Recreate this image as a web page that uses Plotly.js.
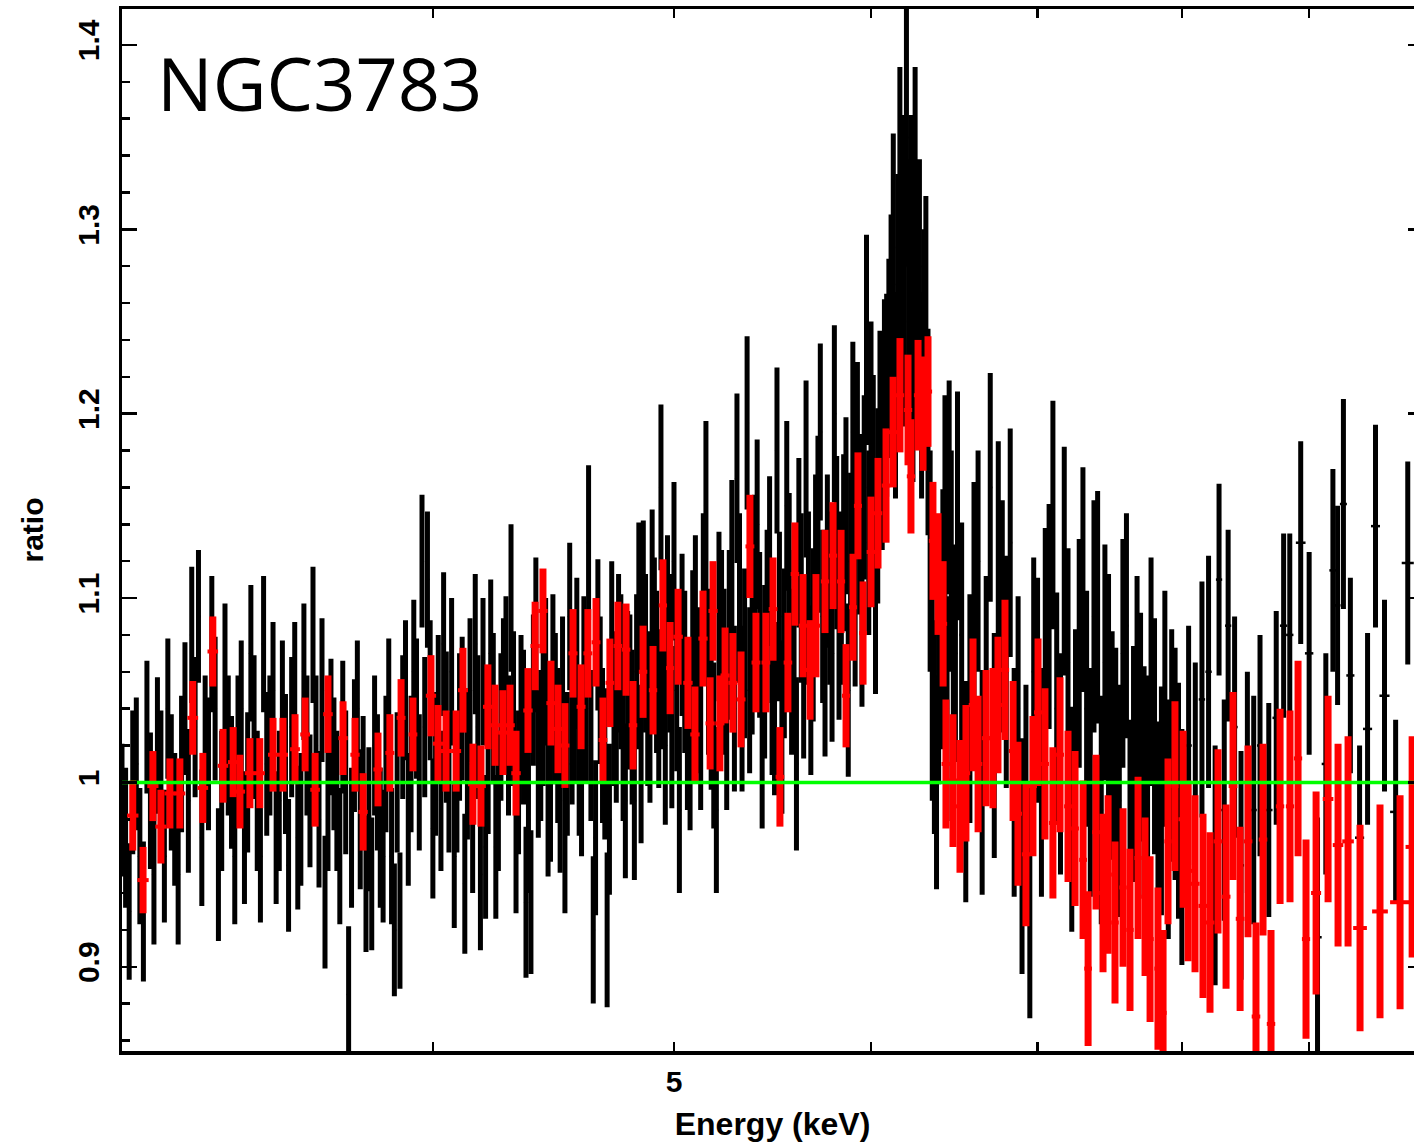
<!DOCTYPE html>
<html>
<head>
<meta charset="utf-8">
<script src="https://cdn.plot.ly/plotly-3.0.1.min.js"></script>
<style>
html,body{margin:0;padding:0;overflow:hidden;background:#fff;}
#chart{width:1440px;height:1145px;}
</style>
</head>
<body>
<div id="chart"></div>
<script>
// ---------- black spectrum (energy in keV, data/model ratio, 1-sigma error, bin half-width) ----------
const blackEnergy = [
3.00,3.01,3.02,3.03,3.04,3.05,3.06,3.07,3.08,3.09,3.10,3.11,3.12,3.13,3.14,3.15,3.16,3.17,3.18,3.19,
3.20,3.21,3.22,3.23,3.24,3.25,3.26,3.27,3.28,3.29,3.30,3.31,3.32,3.33,3.34,3.35,3.36,3.37,3.38,3.39,
3.40,3.41,3.42,3.43,3.44,3.45,3.46,3.47,3.48,3.49,3.50,3.51,3.52,3.53,3.54,3.55,3.56,3.57,3.58,3.59,
3.60,3.61,3.62,3.63,3.64,3.65,3.66,3.67,3.68,3.69,3.70,3.71,3.72,3.73,3.74,3.75,3.76,3.77,3.78,3.79,
3.80,3.81,3.82,3.83,3.84,3.85,3.86,3.87,3.88,3.89,3.90,3.91,3.92,3.93,3.94,3.95,3.96,3.97,3.98,3.99,
4.00,4.01,4.02,4.03,4.04,4.05,4.06,4.07,4.08,4.09,4.10,4.11,4.12,4.13,4.14,4.15,4.16,4.17,4.18,4.19,
4.20,4.21,4.22,4.23,4.24,4.25,4.26,4.27,4.28,4.29,4.30,4.31,4.32,4.33,4.34,4.35,4.36,4.37,4.38,4.39,
4.40,4.41,4.42,4.43,4.44,4.45,4.46,4.47,4.48,4.49,4.50,4.51,4.52,4.53,4.54,4.55,4.56,4.57,4.58,4.59,
4.60,4.61,4.62,4.63,4.64,4.65,4.66,4.67,4.68,4.69,4.70,4.71,4.72,4.73,4.74,4.75,4.76,4.77,4.78,4.79,
4.80,4.81,4.82,4.83,4.84,4.85,4.86,4.87,4.88,4.89,4.90,4.91,4.92,4.93,4.94,4.95,4.96,4.97,4.98,4.99,
5.000,5.0125,5.025,5.0375,5.050,5.0625,5.075,5.0875,5.100,5.1125,
5.125,5.1375,5.150,5.1625,5.175,5.1875,5.200,5.2125,5.225,5.2375,
5.250,5.2625,5.275,5.2875,5.300,5.3125,5.325,5.3375,5.350,5.3625,
5.375,5.3875,5.400,5.4125,5.425,5.4375,5.450,5.4625,5.475,5.4875,
5.500,5.5125,5.525,5.5375,5.550,5.5625,5.575,5.5875,5.600,5.6125,
5.625,5.6375,5.650,5.6625,5.675,5.6875,5.700,5.7125,5.725,5.7375,
5.750,5.7625,5.775,5.7875,5.800,5.8125,5.825,5.8375,5.850,5.8625,
5.875,5.8875,5.900,5.9125,5.925,5.9375,5.950,5.9625,5.975,5.9875,
6.000,6.0125,6.025,6.0375,6.050,6.0625,6.075,6.0875,6.100,
6.1125,6.125,6.1375,6.150,6.1625,6.175,6.1875,6.200,6.2125,6.225,6.2375,6.250,6.2625,6.275,6.2875,6.300,6.3125,6.325,
6.3375,6.350,6.3625,6.375,6.3875,6.400,6.4125,6.425,6.4375,6.450,6.4625,6.475,6.4875,
6.500,6.525,6.550,6.575,6.600,6.625,6.650,6.675,6.700,6.725,6.750,6.775,6.800,6.825,6.850,6.875,6.900,6.925,6.950,6.975,
7.000,7.025,7.050,7.075,7.100,7.125,7.150,7.175,7.200,7.225,7.250,7.275,7.300,7.325,7.350,7.375,7.400,7.425,7.450,7.475,
7.500,7.525,7.550,7.575,7.600,7.625,7.650,7.675,7.700,7.725,7.750,7.775,7.800,7.825,7.850,7.875,7.900,7.925,7.950,7.975,8.000,
8.05,8.10,8.15,8.20,8.25,8.28,8.32,8.35,8.40,8.45,8.50,8.55,8.60,8.67,8.73,8.79,8.84,8.93,
9.00,9.07,9.14,9.20,9.24,9.29,9.35,9.43,9.50,9.57,9.65,9.75,9.86
];
const blackRatio = [
0.985,0.97,0.93,1.00,1.01,0.96,0.93,1.03,0.99,0.95,1.02,1.00,0.96,1.04,1.00,0.98,0.95,1.01,1.04,0.99,
1.08,1.03,1.09,0.97,1.02,1.01,1.075,1.04,0.95,0.99,1.06,1.02,1.00,0.96,1.02,1.04,0.97,1.00,1.07,1.03,
0.99,0.96,1.075,1.01,1.02,1.05,0.97,0.99,1.04,1.01,0.955,1.03,1.05,0.97,0.98,1.06,1.02,0.99,1.08,1.02,
0.98,1.05,0.935,0.99,1.03,1.01,0.99,0.96,1.03,1.00,0.885,0.97,1.02,1.04,0.98,1.00,0.945,0.98,0.945,1.02,
1.00,0.97,0.96,1.01,1.04,0.96,0.92,1.00,0.925,1.03,1.05,0.98,1.01,1.06,1.04,1.00,1.12,1.03,1.11,1.05,
0.975,1.01,1.04,0.99,1.075,1.03,1.00,1.06,0.96,1.00,1.03,1.04,0.945,1.01,1.05,0.98,1.075,1.03,0.95,1.06,
0.965,1.01,1.07,1.04,0.965,0.99,1.03,1.05,1.06,1.02,1.10,1.04,0.97,1.00,1.04,1.03,0.935,0.98,0.935,1.05,
1.08,1.01,1.02,1.04,1.06,0.99,1.00,1.06,1.04,1.02,0.99,1.05,0.97,1.01,1.09,1.03,1.04,1.07,1.01,1.00,
1.06,1.04,1.13,1.02,0.92,0.97,1.08,1.05,1.02,1.01,0.92,0.98,1.08,1.04,1.03,1.07,1.06,1.02,0.99,1.05,
1.05,1.03,0.99,1.06,1.10,1.01,1.10,1.07,1.04,1.03,1.105,1.08,1.06,1.04,1.16,1.06,1.02,1.09,1.07,1.03,
1.12,1.05,0.985,1.08,1.06,1.03,1.02,1.07,1.09,1.05,
1.03,1.10,1.15,1.06,1.04,1.02,0.985,1.09,1.08,1.06,
1.03,1.08,1.12,1.04,1.165,1.10,1.04,1.07,1.195,1.05,
1.07,1.11,1.14,1.08,1.02,1.06,1.09,1.12,1.05,1.04,
1.18,1.09,1.03,1.07,1.15,1.11,1.06,1.08,1.01,1.13,
1.10,1.06,1.17,1.10,1.05,1.08,1.12,1.14,1.19,1.09,
1.06,1.12,1.10,1.07,1.20,1.13,1.08,1.10,1.13,1.15,
1.05,1.12,1.19,1.10,1.18,1.14,1.09,1.16,1.24,1.13,
1.20,1.17,1.10,1.15,1.19,1.18,1.21,1.21,1.23,
1.25,1.29,1.21,1.27,1.33,1.30,1.25,1.35,1.28,1.30,1.22,1.33,1.27,1.28,1.21,1.24,1.26,1.19,
1.12,1.05,1.03,1.00,1.06,1.08,1.10,1.15,1.04,1.16,1.12,1.03,1.07,
1.15,1.08,0.995,1.04,1.10,1.12,1.00,1.05,1.16,1.02,1.125,1.09,1.06,1.13,1.00,1.04,0.96,0.99,0.935,1.06,
1.05,1.00,1.075,1.09,1.145,1.04,1.01,1.12,1.065,0.98,1.02,1.07,1.11,1.04,1.00,1.09,1.095,0.985,1.065,1.05,
1.02,1.01,0.99,1.07,1.085,0.97,1.01,1.05,1.03,1.00,0.995,1.06,1.025,0.97,0.99,1.04,0.98,1.02,1.01,0.99,0.965,
1.02,1.00,1.045,1.06,0.955,1.11,0.985,1.085,1.03,0.955,1.00,0.985,1.02,0.985,1.035,1.085,1.08,1.13,
1.07,0.916,1.01,1.115,1.096,1.151,1.058,0.97,1.029,1.139,1.047,0.984,1.119
];
const blackErr = [
0.036,0.038,0.037,0.039,0.036,0.037,0.038,0.036,0.037,0.038,0.037,0.039,0.036,0.038,0.037,0.036,0.038,0.037,0.036,0.039,
0.037,0.038,0.036,0.037,0.038,0.036,0.037,0.039,0.036,0.038,0.037,0.038,0.036,0.037,0.038,0.037,0.036,0.038,0.037,0.039,
0.038,0.036,0.037,0.039,0.038,0.037,0.036,0.038,0.037,0.038,0.036,0.038,0.037,0.039,0.036,0.037,0.038,0.036,0.037,0.038,
0.037,0.039,0.036,0.038,0.037,0.036,0.038,0.037,0.036,0.039,0.037,0.038,0.036,0.037,0.038,0.036,0.037,0.039,0.036,0.038,
0.037,0.038,0.036,0.037,0.038,0.037,0.036,0.038,0.037,0.039,0.038,0.036,0.037,0.039,0.038,0.037,0.036,0.038,0.037,0.038,
0.038,0.039,0.040,0.038,0.039,0.041,0.038,0.040,0.039,0.038,0.040,0.039,0.038,0.041,0.039,0.040,0.038,0.039,0.041,0.040,
0.039,0.038,0.040,0.041,0.039,0.038,0.040,0.039,0.041,0.038,0.040,0.042,0.041,0.039,0.040,0.042,0.041,0.040,0.039,0.041,
0.042,0.040,0.041,0.042,0.040,0.041,0.043,0.042,0.041,0.042,0.039,0.040,0.041,0.039,0.040,0.042,0.040,0.041,0.039,0.040,
0.041,0.040,0.042,0.041,0.040,0.042,0.041,0.040,0.042,0.041,0.042,0.041,0.040,0.042,0.041,0.043,0.042,0.041,0.042,0.043,
0.041,0.042,0.043,0.042,0.041,0.043,0.042,0.043,0.042,0.041,0.043,0.042,0.044,0.043,0.045,0.042,0.043,0.044,0.043,0.044,
0.043,0.044,0.045,0.044,0.044,0.045,0.046,0.045,0.044,0.045,
0.045,0.046,0.046,0.045,0.044,0.045,0.045,0.046,0.046,0.045,
0.045,0.046,0.044,0.045,0.046,0.046,0.045,0.046,0.047,0.045,
0.044,0.046,0.046,0.045,0.045,0.047,0.047,0.046,0.046,0.047,
0.045,0.046,0.047,0.046,0.046,0.047,0.045,0.046,0.047,0.046,
0.046,0.047,0.048,0.047,0.046,0.047,0.047,0.048,0.048,0.047,
0.046,0.047,0.047,0.048,0.048,0.047,0.046,0.047,0.048,0.048,
0.047,0.048,0.049,0.048,0.048,0.049,0.049,0.050,0.057,0.050,
0.050,0.051,0.052,0.053,0.055,0.054,0.052,0.055,0.054,
0.058,0.062,0.056,0.060,0.058,0.062,0.057,0.070,0.058,0.062,0.057,0.058,0.060,0.058,0.056,0.060,0.058,0.056,
0.060,0.060,0.058,0.058,0.061,0.062,0.059,0.060,0.061,0.058,0.060,0.060,0.059,
0.062,0.061,0.060,0.062,0.063,0.060,0.061,0.062,0.062,0.061,0.060,0.063,0.063,0.062,0.062,0.061,0.064,0.063,0.063,0.062,
0.061,0.062,0.063,0.061,0.062,0.063,0.060,0.062,0.062,0.061,0.063,0.062,0.061,0.064,0.062,0.063,0.063,0.062,0.064,0.063,
0.062,0.063,0.063,0.062,0.061,0.064,0.064,0.062,0.062,0.063,0.063,0.062,0.064,0.063,0.062,0.064,0.065,0.063,0.063,0.064,0.064,
0.065,0.065,0.064,0.063,0.065,0.052,0.060,0.052,0.060,0.062,0.060,0.062,0.060,0.058,0.058,0.050,0.055,0.055,
0.055,0.065,0.060,0.055,0.054,0.057,0.053,0.050,0.052,0.055,0.052,0.050,0.055
];
const blackHalfWidth = [
0.005,0.005,0.005,0.005,0.005,0.005,0.005,0.005,0.005,0.005,0.005,0.005,0.005,0.005,0.005,0.005,0.005,0.005,0.005,0.005,
0.005,0.005,0.005,0.005,0.005,0.005,0.005,0.005,0.005,0.005,0.005,0.005,0.005,0.005,0.005,0.005,0.005,0.005,0.005,0.005,
0.005,0.005,0.005,0.005,0.005,0.005,0.005,0.005,0.005,0.005,0.005,0.005,0.005,0.005,0.005,0.005,0.005,0.005,0.005,0.005,
0.005,0.005,0.005,0.005,0.005,0.005,0.005,0.005,0.005,0.005,0.005,0.005,0.005,0.005,0.005,0.005,0.005,0.005,0.005,0.005,
0.005,0.005,0.005,0.005,0.005,0.005,0.005,0.005,0.005,0.005,0.005,0.005,0.005,0.005,0.005,0.005,0.005,0.005,0.005,0.005,
0.005,0.005,0.005,0.005,0.005,0.005,0.005,0.005,0.005,0.005,0.005,0.005,0.005,0.005,0.005,0.005,0.005,0.005,0.005,0.005,
0.005,0.005,0.005,0.005,0.005,0.005,0.005,0.005,0.005,0.005,0.005,0.005,0.005,0.005,0.005,0.005,0.005,0.005,0.005,0.005,
0.005,0.005,0.005,0.005,0.005,0.005,0.005,0.005,0.005,0.005,0.005,0.005,0.005,0.005,0.005,0.005,0.005,0.005,0.005,0.005,
0.005,0.005,0.005,0.005,0.005,0.005,0.005,0.005,0.005,0.005,0.005,0.005,0.005,0.005,0.005,0.005,0.005,0.005,0.005,0.005,
0.005,0.005,0.005,0.005,0.005,0.005,0.005,0.005,0.005,0.005,0.005,0.005,0.005,0.005,0.005,0.005,0.005,0.005,0.005,0.005,
0.006,0.006,0.006,0.006,0.006,0.006,0.006,0.006,0.006,0.006,
0.006,0.006,0.006,0.006,0.006,0.006,0.006,0.006,0.006,0.006,
0.006,0.006,0.006,0.006,0.006,0.006,0.006,0.006,0.006,0.006,
0.006,0.006,0.006,0.006,0.006,0.006,0.006,0.006,0.006,0.006,
0.006,0.006,0.006,0.006,0.006,0.006,0.006,0.006,0.006,0.006,
0.006,0.006,0.006,0.006,0.006,0.006,0.006,0.006,0.006,0.006,
0.006,0.006,0.006,0.006,0.006,0.006,0.006,0.006,0.006,0.006,
0.006,0.006,0.006,0.006,0.006,0.006,0.006,0.006,0.006,0.006,
0.006,0.006,0.006,0.006,0.006,0.006,0.006,0.006,0.006,
0.006,0.006,0.006,0.006,0.006,0.006,0.006,0.006,0.006,0.006,0.006,0.006,0.006,0.006,0.006,0.006,0.006,0.006,
0.006,0.006,0.006,0.006,0.006,0.006,0.006,0.006,0.006,0.006,0.006,0.006,0.006,
0.012,0.012,0.012,0.012,0.012,0.012,0.012,0.012,0.012,0.012,0.012,0.012,0.012,0.012,0.012,0.012,0.012,0.012,0.012,0.012,
0.012,0.012,0.012,0.012,0.012,0.012,0.012,0.012,0.012,0.012,0.012,0.012,0.012,0.012,0.012,0.012,0.012,0.012,0.012,0.012,
0.012,0.012,0.012,0.012,0.012,0.012,0.012,0.012,0.012,0.012,0.012,0.012,0.012,0.012,0.012,0.012,0.012,0.012,0.012,0.012,0.012,
0.024,0.024,0.024,0.024,0.024,0.024,0.024,0.024,0.024,0.024,0.024,0.024,0.024,0.030,0.030,0.030,0.030,0.040,
0.035,0.035,0.035,0.030,0.025,0.030,0.035,0.040,0.040,0.040,0.045,0.050,0.055
];

// ---------- red spectrum ----------
const redEnergy = [
3.030,3.059,3.087,3.110,3.136,3.165,3.203,3.233,3.263,3.294,
3.325,3.346,3.377,3.408,3.450,3.482,3.521,3.554,3.587,3.630,
3.681,3.722,3.750,3.802,3.844,3.884,3.927,3.993,4.019,4.049,
4.087,4.113,4.151,4.182,4.209,4.237,4.268,4.296,4.320,4.368,
4.397,4.429,4.462,4.491,4.520,4.554,4.588,4.617,4.652,4.682,
4.712,4.747,4.783,4.814,4.859,4.904,4.949,4.982,5.019,5.065,
5.098,5.136,5.170,5.184,5.217,5.242,5.280,5.320,5.364,5.394,
5.444,5.480,5.515,5.556,5.592,5.634,5.671,5.702,5.750,5.793,
5.836,5.863,5.901,5.928,5.956,6.000,6.039,6.084,6.124,6.163,
6.209,6.226,6.267,6.296,6.325,6.354,6.384,6.414,6.431,6.473,
6.515,6.551,6.594,6.625,6.674,6.717,6.748,6.792,6.843,6.874,
6.925,6.970,7.003,7.048,7.100,7.147,7.200,7.247,7.301,7.335,
7.389,7.437,7.472,7.520,7.576,7.625,7.682,7.732,7.768,7.825,
7.862,7.898,7.949,8.009,8.046,8.098,8.158,8.211,8.272,8.334,
8.388,8.443,8.505,8.568,8.624,8.688,8.761,8.842,8.908,8.974,
9.058,9.159,9.244,9.330,9.434,9.610,9.790,9.900
];
const redRatio = [
0.982,0.947,0.998,0.976,0.994,0.994,1.035,0.997,1.071,1.009,
1.011,0.995,1.005,1.005,1.015,1.015,1.018,1.026,0.996,1.037,
1.024,1.015,0.984,1.007,1.016,1.035,1.026,1.047,1.021,1.017,
1.017,1.050,0.999,0.998,1.041,1.031,1.027,1.031,1.005,1.039,
1.074,1.093,1.043,1.029,1.020,1.070,1.041,1.070,1.076,1.023,
1.054,1.074,1.072,1.031,1.060,1.050,1.096,1.062,1.079,1.054,
1.026,1.078,1.032,1.093,1.032,1.058,1.054,1.045,1.128,1.065,
1.065,1.094,1.003,1.065,1.113,1.085,1.061,1.085,1.109,1.123,
1.109,1.047,1.095,1.150,1.081,1.125,1.146,1.161,1.190,1.210,
1.202,1.166,1.210,1.200,1.212,1.131,1.113,1.086,1.010,1.001,
0.987,1.005,1.042,1.010,1.024,1.024,1.042,1.061,1.017,0.983,
0.961,0.998,1.038,1.010,0.978,1.015,0.987,0.975,0.958,0.899,
0.973,0.940,0.950,0.924,0.943,0.920,0.959,0.938,0.915,0.899,
0.875,0.968,0.998,0.980,0.952,0.945,0.933,0.924,0.968,0.938,
0.998,0.926,0.968,0.873,0.969,0.869,0.987,0.987,1.013,0.915,
0.940,0.991,0.966,0.968,0.921,0.930,0.935,0.965
];
const redErr = [
0.019,0.018,0.019,0.020,0.019,0.019,0.020,0.019,0.019,0.020,
0.019,0.020,0.019,0.019,0.020,0.020,0.019,0.020,0.020,0.021,
0.020,0.020,0.021,0.020,0.021,0.021,0.020,0.022,0.021,0.022,
0.022,0.023,0.022,0.022,0.023,0.022,0.023,0.022,0.023,0.023,
0.024,0.023,0.023,0.024,0.023,0.024,0.023,0.024,0.024,0.023,
0.024,0.024,0.025,0.024,0.025,0.024,0.025,0.025,0.026,0.025,
0.026,0.026,0.025,0.027,0.026,0.026,0.027,0.026,0.028,0.027,
0.027,0.028,0.027,0.027,0.028,0.028,0.027,0.028,0.028,0.029,
0.028,0.028,0.029,0.029,0.028,0.030,0.030,0.031,0.030,0.031,
0.030,0.031,0.030,0.031,0.030,0.032,0.033,0.034,0.035,0.036,
0.036,0.037,0.036,0.037,0.037,0.038,0.037,0.038,0.038,0.039,
0.039,0.038,0.040,0.041,0.041,0.042,0.041,0.042,0.043,0.042,
0.042,0.043,0.043,0.044,0.043,0.044,0.044,0.043,0.045,0.044,
0.045,0.045,0.046,0.048,0.049,0.048,0.050,0.049,0.050,0.050,
0.051,0.050,0.052,0.051,0.052,0.051,0.053,0.052,0.053,0.054,
0.055,0.056,0.055,0.057,0.056,0.058,0.058,0.060
];
const redHalfWidth = [
0.016,0.016,0.016,0.016,0.016,0.016,0.016,0.016,0.016,0.016,
0.016,0.016,0.016,0.016,0.016,0.016,0.016,0.016,0.016,0.016,
0.016,0.016,0.016,0.016,0.016,0.016,0.016,0.019,0.019,0.019,
0.019,0.019,0.019,0.019,0.019,0.019,0.019,0.019,0.019,0.019,
0.019,0.019,0.019,0.019,0.019,0.019,0.019,0.019,0.019,0.019,
0.019,0.019,0.019,0.019,0.019,0.019,0.019,0.019,0.022,0.022,
0.022,0.022,0.022,0.022,0.022,0.022,0.022,0.022,0.022,0.022,
0.022,0.022,0.022,0.022,0.022,0.022,0.022,0.022,0.022,0.022,
0.022,0.022,0.022,0.022,0.022,0.024,0.024,0.024,0.024,0.024,
0.024,0.024,0.024,0.024,0.024,0.024,0.024,0.024,0.026,0.026,
0.026,0.026,0.026,0.026,0.026,0.026,0.026,0.026,0.026,0.026,
0.026,0.026,0.026,0.026,0.026,0.026,0.026,0.026,0.026,0.026,
0.026,0.026,0.026,0.026,0.026,0.026,0.026,0.026,0.026,0.026,
0.026,0.026,0.026,0.034,0.034,0.034,0.034,0.034,0.034,0.034,
0.034,0.034,0.034,0.034,0.034,0.034,0.034,0.034,0.034,0.034,
0.042,0.045,0.045,0.050,0.060,0.070,0.090,0.060
];

// ---------- unity reference line and axis ticks ----------
const unityX = [3, 10];
const unityY = [1, 1];
const xTickVals = [3, 4, 5, 6, 7, 8, 9, 10];
const xTickText = ['', '', '5', '', '', '', '', ''];
const yTickVals = [0.9, 1.0, 1.1, 1.2, 1.3, 1.4];
const yTickText = ['0.9', '1', '1.1', '1.2', '1.3', '1.4'];
const yMinorVals = [0.86,0.88,0.92,0.94,0.96,0.98,1.02,1.04,1.06,1.08,1.12,1.14,1.16,1.18,1.22,1.24,1.26,1.28,1.32,1.34,1.36,1.38];
const sourceName = 'NGC3783';

const axisFont = {family: 'Liberation Sans, Arial, sans-serif', size: 30, color: '#000', weight: 'bold'};

const traces = [
  {
    type: 'scatter', mode: 'markers', x: blackEnergy, y: blackRatio,
    marker: {size: 4, color: '#000'},
    error_y: {type: 'data', array: blackErr, visible: true, color: '#000', thickness: 5, width: 0},
    error_x: {type: 'data', array: blackHalfWidth, visible: true, color: '#000', thickness: 2.5, width: 0},
    hoverinfo: 'skip'
  },
  {
    type: 'scatter', mode: 'markers', x: redEnergy, y: redRatio,
    marker: {size: 5, color: '#ff0000'},
    error_y: {type: 'data', array: redErr, visible: true, color: '#ff0000', thickness: 7, width: 0},
    error_x: {type: 'data', array: redHalfWidth, visible: true, color: '#ff0000', thickness: 4, width: 0},
    hoverinfo: 'skip'
  },
  {
    type: 'scatter', mode: 'lines', x: unityX, y: unityY,
    line: {color: '#00ff00', width: 3.5},
    hoverinfo: 'skip'
  }
];

const layout = {
  width: 1440, height: 1145,
  margin: {l: 122, r: 17, t: 9, b: 94},
  paper_bgcolor: '#fff', plot_bgcolor: '#fff',
  showlegend: false,
  font: axisFont,
  xaxis: {
    type: 'log', range: [Math.log10(3), 1],
    tickmode: 'array', tickvals: xTickVals, ticktext: xTickText,
    ticks: 'inside', ticklen: 9, tickwidth: 2.5, tickcolor: '#000',
    showline: true, linewidth: 3.5, linecolor: '#000', mirror: 'ticks',
    showgrid: false, zeroline: false,
    tickfont: axisFont, ticklabelstandoff: 1,
    title: {text: 'Energy (keV)', font: {family: axisFont.family, size: 32, color: '#000', weight: 'bold'}, standoff: 17}
  },
  yaxis: {
    range: [0.8543, 1.4195],
    tickmode: 'array', tickvals: yTickVals, ticktext: yTickText,
    ticks: 'inside', ticklen: 15, tickwidth: 2.5, tickcolor: '#000',
    minor: {tickmode: 'array', tickvals: yMinorVals, ticks: 'inside', ticklen: 8, tickwidth: 2.5, tickcolor: '#000', showgrid: false},
    showline: true, linewidth: 3.5, linecolor: '#000', mirror: 'ticks',
    showgrid: false, zeroline: false,
    tickangle: -90, tickfont: axisFont, ticklabelstandoff: 8,
    title: {text: 'ratio', font: {family: axisFont.family, size: 30, color: '#000', weight: 'bold'}, standoff: 20}
  },
  annotations: [{
    text: sourceName, xref: 'paper', yref: 'paper',
    x: 0.0254, y: 0.929, xanchor: 'left', yanchor: 'middle',
    showarrow: false,
    font: {family: 'Open Sans, Noto Sans, sans-serif', size: 74, color: '#000', weight: 'normal'}
  }]
};

Plotly.newPlot('chart', traces, layout, {staticPlot: true, displayModeBar: false});
</script>
</body>
</html>
